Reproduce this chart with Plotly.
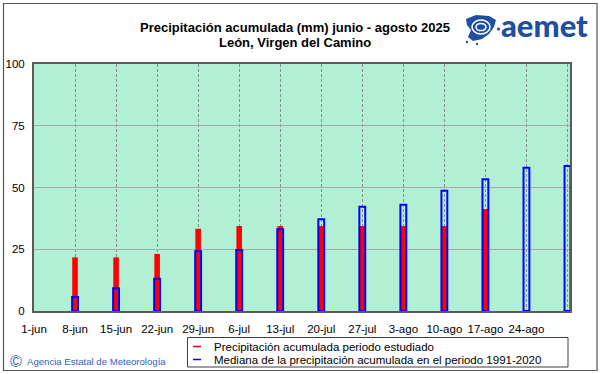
import plotly.graph_objects as go
import pandas as pd

# ---------------- data ----------------
week_labels = ["1-jun", "8-jun", "15-jun", "22-jun", "29-jun", "6-jul", "13-jul",
               "20-jul", "27-jul", "3-ago", "10-ago", "17-ago", "24-ago", "31-ago"]
week_dates = pd.date_range("2025-06-01", periods=14, freq="7D")

# accumulated precipitation 2025 (mm), weeks 8-jun .. 17-ago
precip_2025 = [21.7, 21.7, 23.1, 33.3, 34.4, 34.4, 34.4, 34.4, 34.4, 34.4, 41.3]
# median accumulated precipitation 1991-2020 (mm), weeks 8-jun .. 31-ago
median_1991_2020 = [5.7, 9.2, 13.1, 24.2, 24.7, 33.1, 37.1, 42.2, 43.0, 48.7, 53.3, 58.0, 58.7]

tick_text = week_labels[:13] + [""]
y_ticks = [0, 25, 50, 75, 100]

# ---------------- layout geometry (pixels) ----------------
W, H = 601, 374
L, R, T, B = 34, 570, 64, 311
DAY_MS = 86400000


def px(x):
    return (x - L) / (R - L)


def py(y):
    return (B - y) / (B - T)


FONT = "Liberation Sans, Arial, sans-serif"

fig = go.Figure()

fig.add_trace(go.Bar(
    x=week_dates[1:1 + len(precip_2025)], y=precip_2025,
    width=0.95 * DAY_MS,
    marker=dict(color="#ff0000", line=dict(width=0)),
    name="Precipitación acumulada periodo estudiado", showlegend=False,
))
fig.add_trace(go.Bar(
    x=week_dates[1:1 + len(median_1991_2020)], y=median_1991_2020,
    width=1.0 * DAY_MS,
    marker=dict(color="rgba(0,0,0,0)", line=dict(color="#0000ff", width=2)),
    name="Mediana de la precipitación acumulada en el periodo 1991-2020", showlegend=False,
))

shapes = []
annotations = []

# outer frame
shapes.append(dict(type="rect", xref="paper", yref="paper",
                   x0=px(3.5), x1=px(597), y0=py(3.5), y1=py(370.5),
                   line=dict(color="#555555", width=1.2), layer="above"))

# legend box
shapes.append(dict(type="rect", xref="paper", yref="paper",
                   x0=px(187.5), x1=px(568), y0=py(337.5), y1=py(367),
                   line=dict(color="#404040", width=1), fillcolor="white"))
for yy, col in [(346.5, "#ff0000"), (359.5, "#0000ff")]:
    shapes.append(dict(type="line", xref="paper", yref="paper",
                       x0=px(193), x1=px(201), y0=py(yy), y1=py(yy),
                       line=dict(color=col, width=1.5)))
for yy, txt in [(346.5, "Precipitación acumulada periodo estudiado"),
                (359.5, "Mediana de la precipitación acumulada en el periodo 1991-2020")]:
    annotations.append(dict(xref="paper", yref="paper", x=px(212), y=py(yy),
                            xanchor="left", yanchor="middle", showarrow=False, text=txt,
                            font=dict(family=FONT, size=11.5, color="black")))

# title
annotations.append(dict(xref="paper", yref="paper", x=px(295), y=py(27),
                        xanchor="center", yanchor="middle", showarrow=False,
                        text="<b>Precipitación acumulada (mm) junio - agosto 2025</b>",
                        font=dict(family=FONT, size=13, color="black")))
annotations.append(dict(xref="paper", yref="paper", x=px(295), y=py(43),
                        xanchor="center", yanchor="middle", showarrow=False,
                        text="<b>León, Virgen del Camino</b>",
                        font=dict(family=FONT, size=13, color="black")))

# footer
annotations.append(dict(xref="paper", yref="paper", x=px(16), y=py(361),
                        xanchor="center", yanchor="middle", showarrow=False, text="©",
                        font=dict(family=FONT, size=16, color="#2f5fc4")))
annotations.append(dict(xref="paper", yref="paper", x=px(25), y=py(361),
                        xanchor="left", yanchor="middle", showarrow=False,
                        text="Agencia Estatal de Meteorología",
                        font=dict(family=FONT, size=9.6, color="#2f5fc4")))

# logo
LOGO = "#1f4fa0"
annotations.append(dict(xref="paper", yref="paper", x=px(544), y=py(25),
                        xanchor="center", yanchor="middle", showarrow=False,
                        text="aemet",
                        font=dict(family="Lato, " + FONT, size=31, color=LOGO, weight=900)))


def path(points):
    s = "M " + " L ".join(f"{px(x):.4f},{py(y):.4f}" for x, y in points) + " Z"
    return s


shapes.append(dict(type="path", xref="paper", yref="paper",
                   path=path([(466, 19), (476, 15), (489, 16), (496, 20), (494, 27),
                              (489, 34), (482, 39), (473, 41), (468, 37), (471, 30), (467, 25)]),
                   fillcolor=LOGO, line=dict(width=0)))
for cx, cy, rx, ry in [(481, 27, 9, 7), (481, 27, 5, 3.6)]:
    shapes.append(dict(type="circle", xref="paper", yref="paper",
                       x0=px(cx - rx), x1=px(cx + rx), y0=py(cy - ry), y1=py(cy + ry),
                       line=dict(color="white", width=1.5)))
for cx, cy, r in [(498.5, 29, 1.6), (467, 42, 1.2), (477, 44, 1.2)]:
    shapes.append(dict(type="circle", xref="paper", yref="paper",
                       x0=px(cx - r), x1=px(cx + r), y0=py(cy - r), y1=py(cy + r),
                       fillcolor=LOGO, line=dict(width=0)))

fig.update_layout(
    template="none",
    width=W, height=H,
    margin=dict(l=L, r=W - R, t=T, b=H - B, pad=0),
    paper_bgcolor="white",
    plot_bgcolor="#b2f0d6",
    barmode="overlay",
    showlegend=False,
    shapes=shapes,
    annotations=annotations,
    font=dict(family=FONT, size=11.5, color="black"),
)
fig.update_xaxes(
    type="date",
    range=[week_dates[0], week_dates[-1] + pd.Timedelta(hours=10.3)],
    tickvals=week_dates, ticktext=tick_text,
    showgrid=True, gridcolor="#8c8c8c", griddash="3px,2px", gridwidth=1,
    showline=True, mirror=True, linecolor="#5a5a5a", linewidth=2,
    ticks="", ticklabelstandoff=6, automargin=False, zeroline=False,
    tickfont=dict(family=FONT, size=11.5, color="black"),
)
fig.update_yaxes(
    range=[0, 100], tickvals=y_ticks,
    showgrid=True, gridcolor="#a8a8a8", gridwidth=1,
    showline=True, mirror=True, linecolor="#5a5a5a", linewidth=2,
    ticks="", ticklabelstandoff=5, automargin=False, zeroline=False,
    tickfont=dict(family=FONT, size=11.5, color="black"),
)

fig.write_html("out.html",
               config={"displayModeBar": False},
               post_script="document.body.style.margin='0px';document.body.style.overflow='hidden';")
